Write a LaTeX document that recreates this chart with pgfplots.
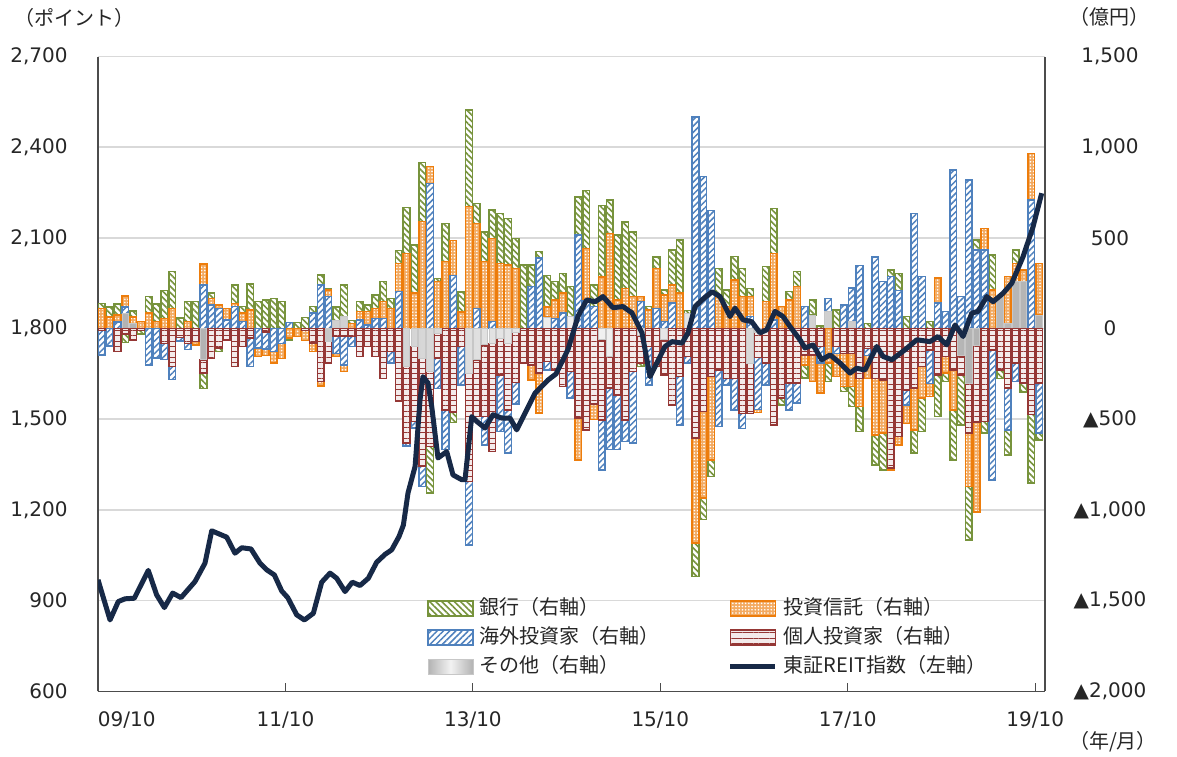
\documentclass[border=0pt]{standalone}
\usepackage{fontspec}
\setmainfont{DejaVu Sans}
\newfontfamily\cjk{Noto Sans CJK JP}
\usepackage{pgfplots}
\pgfplotsset{compat=1.18}
\usepackage{pgfplotstable}
\usetikzlibrary{patterns.meta}

\definecolor{cGreen}{RGB}{119,147,60}
\definecolor{cOrange}{RGB}{237,125,12}
\definecolor{cBlue}{RGB}{79,129,189}
\definecolor{cRed}{RGB}{149,55,53}
\definecolor{cLine}{RGB}{23,41,71}
\definecolor{cGrid}{RGB}{217,217,217}

\tikzset{
 sGray/.style={draw=black!22, line width=0.5bp, left color=black!30, right color=black!30, middle color=black!5},
 sRed/.style={draw=cRed, line width=0.75bp, fill=cRed!10, postaction={pattern={Lines[angle=0,distance=2.7bp,line width=0.5bp]}, pattern color=cRed}},
 sBlue/.style={draw=cBlue, line width=0.75bp, fill=white, postaction={pattern={Lines[angle=45,distance=2.2bp,line width=0.75bp]}, pattern color=cBlue}},
 sOrange/.style={draw=cOrange, line width=0.75bp, fill=cOrange!65, postaction={pattern={Dots[distance=1.6bp,radius=0.45bp]}, pattern color=white}},
 sGreen/.style={draw=cGreen, line width=0.75bp, fill=white, postaction={pattern={Lines[angle=-45,distance=2.2bp,line width=0.8bp]}, pattern color=cGreen}},
}

\pgfplotsset{
 base/.style={scale only axis, width=473.5bp, height=317.35bp, xmin=0, xmax=121.25},
 myarea/.style={legend image code/.code={\draw[##1] (0bp,-3.75bp) rectangle (22.5bp,3.75bp);}},
 myline/.style={legend image code/.code={\draw[##1] (0bp,0bp) -- (22.5bp,0bp);}},
}

\pgfplotstableread{
x gray red blue orange green
0.5 0 -10 -135 110 28
1.5 0 0 -95 64 55
2.5 0 -127 37 37 61
3.5 83 -31 37 59 -46
4.5 28 -62 0 37 33
5.5 0 -10 0 40 -20
6.5 0 0 -200 85 92
7.5 0 0 -163 39 97
8.5 0 -81 -90 57 152
9.5 0 -209 -73 112 202
10.5 0 -50 -18 0 59
11.5 0 -81 -33 39 110
12.5 0 -72 0 -18 149
13.5 -173 -73 241 114 -83
14.5 0 -164 130 37 28
15.5 0 -108 112 18 -18
16.5 0 -62 48 64 0
17.5 0 -209 121 18 101
18.5 0 -99 39 46 37
19.5 0 -53 -156 103 143
20.5 0 0 -108 -46 149
21.5 0 -20 -92 -37 158
22.5 0 0 -126 -64 167
23.5 0 0 -81 -83 149
24.5 0 0 33 -53 -9
25.5 0 0 0 -44 33
26.5 0 -10 0 -55 62
27.5 0 -80 85 -46 37
28.5 0 -292 241 -24 55
29.5 -72 -119 176 37 9
30.5 46 -44 -92 -18 74
31.5 66 -44 -156 -37 174
32.5 0 -44 -55 28 18
33.5 0 -154 48 46 55
34.5 0 -99 20 74 37
35.5 0 -154 57 55 73
36.5 0 -274 57 92 110
37.5 0 -127 -64 112 55
38.5 0 -402 204 156 70
39.5 -209 -423 -15 415 252
40.5 -99 -413 -37 195 266
41.5 -163 -597 -110 590 325
42.5 -237 -413 801 92 -257
43.5 -26 -138 -165 259 18
44.5 0 -448 -220 369 211
45.5 0 -463 294 193 -55
46.5 0 -99 -211 92 110
47.5 -246 -597 -349 672 533
48.5 -173 -312 112 468 110
49.5 -90 -395 -156 369 165
50.5 -81 -597 39 459 156
51.5 -53 -202 -312 360 276
52.5 -81 -367 -239 351 257
53.5 -22 -276 -119 332 165
54.5 0 -191 0 0 351
55.5 0 -200 231 -83 119
56.5 0 -246 388 -220 37
57.5 64 -182 -46 55 174
58.5 0 -228 57 101 101
59.5 0 -320 85 110 110
60.5 66 -237 -147 0 165
61.5 0 -494 516 -230 211
62.5 0 -560 156 285 321
63.5 0 -417 121 -83 119
64.5 -62 -441 -277 285 395
65.5 -154 -174 -340 525 184
66.5 0 -366 -300 158 358
67.5 0 -503 -119 222 367
68.5 0 -237 -393 176 358
69.5 -40 -150 149 28 -20
70.5 0 -99 -211 103 18
71.5 0 -209 112 220 64
72.5 -62 -193 39 147 28
73.5 0 -421 140 101 193
74.5 0 -265 -266 195 294
75.5 83 -154 -37 0 18
76.5 0 -604 1168 -579 -184
77.5 0 -457 838 -478 -119
78.5 0 -265 652 -459 -92
79.5 0 -228 -312 176 156
80.5 0 -274 -37 121 92
81.5 0 -274 -174 268 129
82.5 0 -467 -83 176 156
83.5 -191 -276 66 110 46
84.5 -22 -138 -285 -18 0
85.5 0 -191 -119 149 193
86.5 0 -531 48 367 248
87.5 0 -384 0 121 -37
88.5 0 -301 -147 158 46
89.5 0 -301 -110 231 83
90.5 0 -145 121 -55 -73
91.5 75 -145 0 -147 83
92.5 0 -99 -92 -165 15
93.5 94 0 73 -191 -101
94.5 0 -99 -37 -129 103
95.5 0 -136 130 -184 -28
96.5 39 -136 184 -184 -110
97.5 0 -274 349 -156 -138
98.5 0 -110 -37 -129 28
99.5 0 -274 395 -312 -165
100.5 0 -283 259 -294 -202
101.5 0 -770 287 -9 37
102.5 0 -595 211 -46 92
103.5 0 -338 -83 -101 66
104.5 0 -328 634 -230 -129
105.5 0 -209 287 -174 -184
106.5 0 -118 -184 -73 39
107.5 0 -255 140 140 -230
108.5 0 -154 94 -92 -46
109.5 0 -228 874 -220 -276
110.5 -150 -105 176 0 -276
111.5 -301 -276 819 -294 -294
112.5 -92 -423 434 -496 55
113.5 0 -512 434 119 -64
114.5 0 -118 -716 213 193
115.5 176 -228 0 0 -46
116.5 29 -328 -230 257 -138
117.5 259 -191 -101 101 73
118.5 259 -300 0 64 -50
119.5 0 -474 709 257 -377
120.5 75 -301 -276 285 -37
}\flows

\pgfplotstableread{
m v
0 969
1.54 836
2.6 897
3.46 906
4.65 908
6.44 1000
7.51 919
8.5 877
9.56 925
10.63 910
12.42 963
13.7 1024
14.56 1131
16.48 1110
17.54 1057
18.4 1075
19.59 1071
20.74 1024
21.6 1002
22.58 985
23.52 932
24.29 910
25.44 853
26.42 836
27.57 858
28.64 961
29.71 991
30.56 974
31.63 930
32.56 961
33.55 950
34.61 974
35.68 1027
36.75 1053
37.6 1068
38.54 1112
39.1 1150
39.69 1256
40.6 1344
41.23 1564
41.61 1641
42.25 1620
42.73 1542
43.53 1372
44.65 1393
45.45 1316
46.57 1300
46.99 1300
47.85 1509
48.49 1493
49.55 1471
50.58 1515
51.69 1504
52.75 1504
53.61 1465
54.67 1520
55.95 1586
57.62 1630
58.64 1650
60.18 1731
61.46 1841
62.57 1895
63.64 1889
64.66 1906
65.94 1869
67.22 1873
68.37 1852
69.65 1786
70.68 1641
71.32 1674
72.6 1741
73.5 1757
74.78 1752
75.54 1786
76.44 1873
77.34 1895
78.62 1922
79.64 1906
80.92 1840
81.56 1868
82.59 1829
83.7 1823
84.76 1786
85.62 1796
86.68 1857
87.71 1840
88.6 1807
89.88 1763
90.52 1736
91.55 1746
92.66 1697
93.73 1713
95.01 1686
96.29 1653
97.14 1669
98.21 1663
99.71 1741
100.51 1708
101.63 1697
103.33 1730
104.83 1763
106.53 1757
107.55 1774
108.67 1746
109.73 1812
110.76 1774
111.87 1851
112.68 1857
113.79 1906
114.6 1889
115.88 1917
116.99 1950
118.44 2038
119.72 2137
120.83 2248
}\reit

\begin{document}
\begin{tikzpicture}
% base axis: grid, left axis, x axis
\begin{axis}[base, ymin=600, ymax=2700,
  axis x line*=bottom, axis y line*=left,
  axis line style={black!70, line width=0.6bp, -},
  ytick={600,900,1200,1500,1800,2100,2400,2700},
  yticklabels={600,900,{1,200},{1,500},{1,800},{2,100},{2,400},{2,700}},
  ymajorgrids, major grid style={cGrid, line width=0.8bp},
  ytick style={draw=none},
  xtick={0,24,48,72,96,120},
  xticklabels={{\hphantom{09/10}09/10},11/10,13/10,15/10,17/10,19/10},
  xtick style={black!70, line width=0.6bp},
  tick align=inside, major tick length=4bp,
  tick label style={font=\fontsize{10bp}{12bp}\selectfont, text=black!85},
  yticklabel style={xshift=-11.7bp},
  xticklabel style={yshift=-6.5bp},
]
\end{axis}
% positive stacks
\begin{axis}[base, hide axis, ymin=-2000, ymax=1500, ybar stacked, bar width=0.85, stacked ignores zero=true]
\addplot[sGray] table[x=x, y expr={max(\thisrow{gray},0)}]{\flows};
\addplot[sRed] table[x=x, y expr={max(\thisrow{red},0)}]{\flows};
\addplot[sBlue] table[x=x, y expr={max(\thisrow{blue},0)}]{\flows};
\addplot[sOrange] table[x=x, y expr={max(\thisrow{orange},0)}]{\flows};
\addplot[sGreen] table[x=x, y expr={max(\thisrow{green},0)}]{\flows};
\end{axis}
% negative stacks
\begin{axis}[base, hide axis, ymin=-2000, ymax=1500, ybar stacked, bar width=0.85, stacked ignores zero=true]
\addplot[sGray] table[x=x, y expr={min(\thisrow{gray},0)}]{\flows};
\addplot[sRed] table[x=x, y expr={min(\thisrow{red},0)}]{\flows};
\addplot[sBlue] table[x=x, y expr={min(\thisrow{blue},0)}]{\flows};
\addplot[sOrange] table[x=x, y expr={min(\thisrow{orange},0)}]{\flows};
\addplot[sGreen] table[x=x, y expr={min(\thisrow{green},0)}]{\flows};
\end{axis}
% right axis
\begin{axis}[base, ymin=-2000, ymax=1500,
  axis y line*=right, axis x line=none,
  axis line style={black!70, line width=0.6bp, -},
  xtick=\empty,
  ytick={-2000,-1500,-1000,-500,0,500,1000,1500},
  yticklabels={{▲2,000},{▲1,500},{▲1,000},▲500,0,500,{1,000},{1,500}},
  ytick style={draw=none},
  tick label style={font=\fontsize{10bp}{12bp}\selectfont, text=black!85},
  yticklabel style={anchor=center, xshift=32.5bp},
]
\end{axis}
% line + legend
\begin{axis}[base, hide axis, ymin=600, ymax=2700,
  legend columns=2, legend cell align=left,
  legend style={at={(0.341,0.156)}, anchor=north west, draw=none, fill=none,
    font=\cjk\fontsize{10bp}{12bp}\selectfont, text=black!85,
    nodes={inner sep=1bp, text height=8bp, text depth=2bp}, row sep=2.5bp,
    /tikz/every even column/.append style={column sep=33bp},
    /tikz/every odd column/.append style={column sep=2bp}},
]
\path (rel axis cs:0,0) coordinate (SW);
\path (rel axis cs:1,1) coordinate (NE);
\path (rel axis cs:0,1) coordinate (NW);
\path (rel axis cs:1,0) coordinate (SE);
\addlegendimage{myarea, sGreen}
\addlegendentry{銀行（右軸）}
\addlegendimage{myarea, sOrange}
\addlegendentry{投資信託（右軸）}
\addlegendimage{myarea, sBlue}
\addlegendentry{海外投資家（右軸）}
\addlegendimage{myarea, sRed}
\addlegendentry{個人投資家（右軸）}
\addlegendimage{myarea, sGray}
\addlegendentry{その他（右軸）}
\addplot[myline, cLine, line width=2.5bp, line join=round, mark=none] table[x=m, y=v]{\reit};
\addlegendentry{東証REIT指数（左軸）}
\end{axis}
\node[font=\cjk\fontsize{10bp}{12bp}\selectfont, text=black!85] at ([xshift=-11.5bp, yshift=19.3bp]NW) {（ポイント）};
\node[font=\cjk\fontsize{10bp}{12bp}\selectfont, text=black!85] at ([xshift=32bp, yshift=20bp]NE) {（億円）};
\node[font=\cjk\fontsize{10bp}{12bp}\selectfont, text=black!85] at ([xshift=34bp, yshift=-25.4bp]SE) {（年/月）};
\pgfresetboundingbox
\path[use as bounding box] ([xshift=-49bp, yshift=-32.85bp]SW) rectangle ([xshift=66bp, yshift=28.3bp]NE);
\end{tikzpicture}
\end{document}
